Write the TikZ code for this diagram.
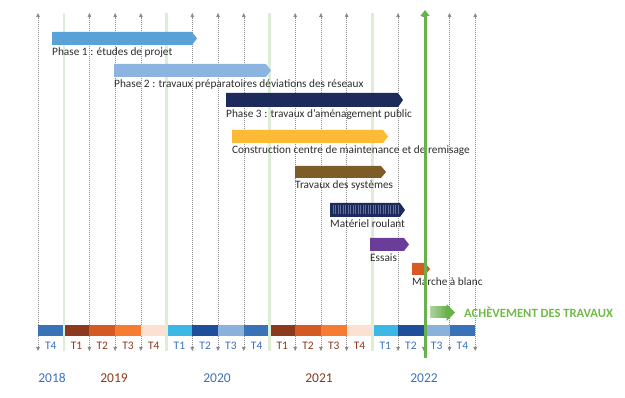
\documentclass[tikz,border=0pt]{standalone}
\usepackage{fontspec}
\setmainfont{Carlito}
\usetikzlibrary{arrows.meta}
\definecolor{txt}{RGB}{45,45,45}
\definecolor{gridgray}{RGB}{140,140,140}
\definecolor{lgreen}{RGB}{222,237,214}
\definecolor{dgreen}{RGB}{106,176,76}
\definecolor{tgreen}{RGB}{112,186,72}
\definecolor{pone}{RGB}{88,162,216}
\definecolor{ptwo}{RGB}{140,180,224}
\definecolor{navy}{RGB}{28,42,92}
\definecolor{stripe}{RGB}{95,110,160}
\definecolor{yel}{RGB}{253,186,52}
\definecolor{brn}{RGB}{125,92,40}
\definecolor{purp}{RGB}{106,61,154}
\definecolor{rust}{RGB}{214,90,34}
\definecolor{qblue}{RGB}{58,114,184}
\definecolor{qbrown}{RGB}{139,58,30}
\definecolor{qdorange}{RGB}{211,90,34}
\definecolor{qorange}{RGB}{246,124,50}
\definecolor{qpeach}{RGB}{252,225,210}
\definecolor{qcyan}{RGB}{60,184,230}
\definecolor{qdblue}{RGB}{31,78,156}
\definecolor{qlblue}{RGB}{138,176,220}
\newcommand\ganttbar[6]{%
  \fill[#6] (#2,#4) -- (#3,#4) -- ({#3+5},{(#4+#5)/2}) -- (#3,#5) -- (#2,#5) -- cycle;
  \coordinate (#1) at (#2,{#5+11});}
\begin{document}
\begin{tikzpicture}[x=1pt,y=-1pt,
  lbl/.style={anchor=base west,inner sep=0pt,font=\fontsize{11.3}{12}\selectfont,text=txt},
  qlbl/.style={inner sep=0pt,font=\fontsize{11.5}{12}\selectfont},
  ylbl/.style={inner sep=0pt,font=\fontsize{13.5}{14}\selectfont},
  gridline/.style={gridgray,line width=0.45pt,dash pattern=on 1.2pt off 0.8pt,{Triangle[length=4pt,width=3.6pt]}-{Triangle[length=4pt,width=3.6pt]}},
  yearline/.style={lgreen,line width=2.4pt}]
\useasboundingbox (0,0) rectangle (625,398);
% grid lines
\foreach \i in {0,...,17}{
  \pgfmathsetmacro\xx{38+25.72*\i}
  \coordinate (t\i) at (\xx,13);
  \coordinate (b\i) at (\xx,351);
}
\foreach \i in {0,2,3,4,6,7,8,10,11,12,14,15,16,17}{\draw[gridline] (b\i) -- (t\i);}
\foreach \i in {1,5,9,13}{\draw[yearline] (b\i) -- (t\i);}
% bars
\ganttbar{p1}{52}{192}{32}{45}{pone}
\node[lbl] (lp1) at (p1) {Phase 1 : études de projet};
\ganttbar{p2}{114}{266}{64}{77}{ptwo}
\node[lbl] (lp2) at (p2) {Phase 2 : travaux préparatoires déviations des réseaux};
\ganttbar{p3}{226}{398}{93}{107}{navy}
\node[lbl] (lp3) at (p3) {Phase 3 : travaux d’aménagement public};
\ganttbar{cm}{232}{383}{130}{143}{yel}
\node[lbl] (lcm) at (cm) {Construction centre de maintenance et de remisage};
\ganttbar{ts}{295}{381}{166}{178}{brn}
\node[lbl] (lts) at (ts) {Travaux des systèmes};
\ganttbar{mr}{330}{400}{203}{217}{navy}
\foreach \s in {333,335.5,...,398}{\draw[stripe,line width=0.8pt] (\s,205.5) -- (\s,214.5);}
\node[lbl] (lmr) at (mr) {Matériel roulant};
\ganttbar{es}{370}{404}{238}{251}{purp}
\node[lbl] (les) at (es) {Essais};
\ganttbar{mb}{412}{425}{263}{275}{rust}
\node[lbl] (lmb) at (mb) {Marche à blanc};
% timeline
\foreach \i/\c in {0/qblue,1/qbrown,2/qdorange,3/qorange,4/qpeach,5/qcyan,6/qdblue,7/qlblue,8/qblue,9/qbrown,10/qdorange,11/qorange,12/qpeach,13/qcyan,14/qdblue,15/qlblue,16/qblue}{
  \pgfmathsetmacro\xa{38+25.72*\i}
  \pgfmathsetmacro\xb{38+25.72*(\i+1)}
  \fill[\c] (\xa,325) rectangle (\xb,336);
}
\foreach \i in {1,5,9,13}{\draw[yearline] (\i*25.72+38,324) -- (\i*25.72+38,337);}
% quarter labels
\foreach \i/\q/\c in {0/T4/qblue,1/T1/qbrown,2/T2/qbrown,3/T3/qbrown,4/T4/qbrown,5/T1/qblue,6/T2/qblue,7/T3/qblue,8/T4/qblue,9/T1/qbrown,10/T2/qbrown,11/T3/qbrown,12/T4/qbrown,13/T1/qblue,14/T2/qblue,15/T3/qblue,16/T4/qblue}{
  \node[qlbl,text=\c] (q\i) at ({38+25.72*(\i+0.5)},346) {\q};
}
% years
\node[ylbl,text=qblue] (y18) at (52,378) {2018};
\node[ylbl,text=qbrown] (y19) at (114,378) {2019};
\node[ylbl,text=qblue] (y20) at (217,378) {2020};
\node[ylbl,text=qbrown] (y21) at (319,378) {2021};
\node[ylbl,text=qblue] (y22) at (424,378) {2022};
% completion line
\coordinate (gb) at (425,358);
\coordinate (gt) at (425,10);
\draw[dgreen,line width=3pt,-{Triangle[length=6pt,width=9pt]}] (gb) -- (gt);
% completion arrow
\shade[left color=dgreen!55!white,right color=dgreen] (430,307) rectangle (447,318);
\fill[dgreen] (446.5,304) -- (455,312.5) -- (446.5,321) -- cycle;
\node[anchor=west,inner sep=0pt,font=\fontsize{12.6}{13}\bfseries\selectfont,text=tgreen] (ach) at (464,312.5) {ACHÈVEMENT DES TRAVAUX};
\end{tikzpicture}
\end{document}
